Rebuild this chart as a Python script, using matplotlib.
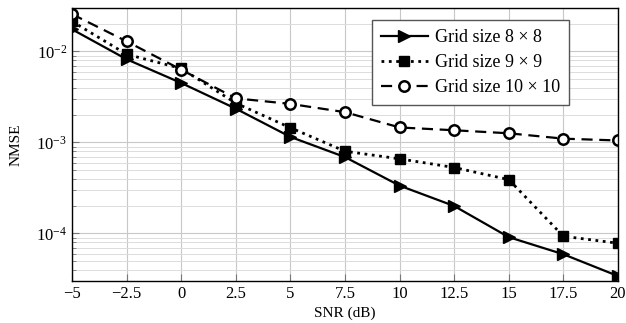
import matplotlib
matplotlib.use("Agg")
import matplotlib.pyplot as plt
from matplotlib.ticker import LogLocator, NullFormatter

snr = [-5, -2.5, 0, 2.5, 5, 7.5, 10, 12.5, 15, 17.5, 20]
nmse_8 = [1.75e-2, 8.2e-3, 4.5e-3, 2.35e-3, 1.15e-3, 6.9e-4, 3.35e-4, 2.0e-4, 9.1e-5, 5.9e-5, 3.4e-5]
nmse_9 = [2.14e-2, 9.3e-3, 6.5e-3, 2.7e-3, 1.45e-3, 8.0e-4, 6.6e-4, 5.3e-4, 3.9e-4, 9.3e-5, 7.8e-5]
nmse_10 = [2.57e-2, 1.29e-2, 6.3e-3, 3.05e-3, 2.65e-3, 2.15e-3, 1.46e-3, 1.36e-3, 1.26e-3, 1.1e-3, 1.05e-3]
labels = ['Grid size 8 \u00d7 8', 'Grid size 9 \u00d7 9', 'Grid size 10 \u00d7 10']
xticks = [-5, -2.5, 0, 2.5, 5, 7.5, 10, 12.5, 15, 17.5, 20]
xticklabels = ['\u22125', '\u22122.5', '0', '2.5', '5', '7.5', '10', '12.5', '15', '17.5', '20']

plt.rcParams['font.family'] = ['Liberation Serif', 'DejaVu Serif']
plt.rcParams['mathtext.fontset'] = 'stix'

fig = plt.figure(figsize=(6.26, 3.23), dpi=100)
ax = fig.add_axes([72/626, 1-281/323, (618-72)/626, (281-8)/323])

ax.plot(snr, nmse_8, '-', color='black', lw=1.6, marker='>', markersize=8.5, label=labels[0])
ax.plot(snr, nmse_9, ':', color='black', lw=2.0, marker='s', markersize=7.5, label=labels[1])
ax.plot(snr, nmse_10, '--', color='black', lw=1.6, dashes=(5, 3), marker='o', markersize=7.5,
        markerfacecolor='white', markeredgewidth=1.8, label=labels[2])

ax.set_yscale('log')
ax.set_xlim(-5, 20)
ax.set_ylim(3e-5, 3e-2)
ax.set_xticks(xticks)
ax.set_xticklabels(xticklabels)
ax.yaxis.set_major_locator(LogLocator(base=10, numticks=10))
ax.yaxis.set_minor_locator(LogLocator(base=10, subs=range(2, 10), numticks=100))
ax.yaxis.set_minor_formatter(NullFormatter())

ax.grid(True, which='major', color='#c8c8c8', lw=0.8)
ax.grid(True, which='minor', axis='y', color='#dcdcdc', lw=0.7)
ax.set_axisbelow(True)
ax.tick_params(which='both', direction='in', color='#777777', labelsize=12)
ax.tick_params(which='major', length=5)
ax.tick_params(which='minor', length=3)
for s in ax.spines.values():
    s.set_linewidth(1.0)

ax.set_xlabel('SNR (dB)', fontsize=11, labelpad=3)
ax.set_ylabel('NMSE', fontsize=11, labelpad=10)

leg = ax.legend(loc='upper right', bbox_to_anchor=(569/626, 1-20/323), bbox_transform=fig.transFigure,
                fontsize=13, frameon=True, fancybox=False, edgecolor='#555555',
                framealpha=1, borderpad=0.5, borderaxespad=0, handlelength=2.6,
                handletextpad=0.4, labelspacing=0.45)
leg.get_frame().set_linewidth(1.0)

fig.savefig('out.png', dpi=100)
